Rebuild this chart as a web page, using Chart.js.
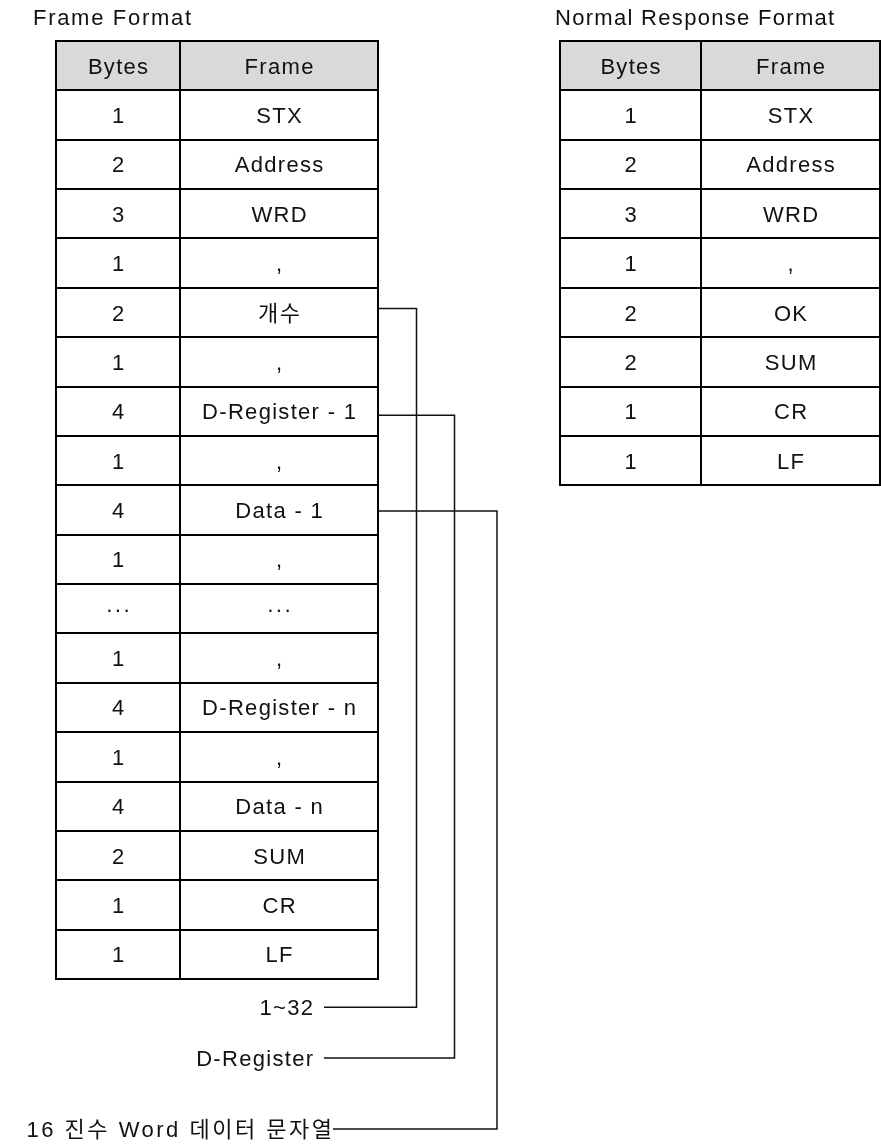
<!DOCTYPE html>
<html>
<head>
<meta charset="utf-8">
<script src="https://cdn.jsdelivr.net/npm/chart.js@4/dist/chart.umd.min.js"></script>
<style>
  body { margin: 0; background: #fff; }
  #quadro { display: block; }
</style>
</head>
<body>
<canvas id="quadro" width="881" height="1144"></canvas>
<script>
// dados das tabelas
var frameTitle = "Frame Format";
var responseTitle = "Normal Response Format";
var headers = ["Bytes", "Frame"];

var frameBytes = ["1", "2", "3", "1", "2", "1", "4", "1", "4", "1", "···", "1", "4", "1", "4", "2", "1", "1"];
var frameFields = ["STX", "Address", "WRD", ",", "개수", ",", "D-Register - 1", ",", "Data - 1", ",", "···", ",", "D-Register - n", ",", "Data - n", "SUM", "CR", "LF"];

var responseBytes = ["1", "2", "3", "1", "2", "2", "1", "1"];
var responseFields = ["STX", "Address", "WRD", ",", "OK", "SUM", "CR", "LF"];

// linhas da tabela que levam uma nota em baixo
var noteRows = [4, 6, 8];
var noteLabels = ["1~32", "D-Register", "16 진수 Word 데이터 문자열"];

// layout (pixels / unidades de linha)
var frameEdges = [56, 180, 378];
var responseEdges = [560, 701, 880];
var noteLineX = [416.5, 454.5, 497];
var noteRowPos = [19.57, 20.6, 22.04];
var noteRowShift = [-0.08, 0.08, 0.02];
var noteTextRight = [313, 313, 332];
var noteLineStart = [324, 324, 333];

var fonte = '22px "Liberation Sans", Arial, "Noto Sans CJK KR", sans-serif';
var espaco = 1.3;

function escrever(ctx, texto, x, yBase, align, sp) {
    ctx.letterSpacing = sp + "px";
    ctx.textAlign = align;
    var dx = 0;
    if (align == "center") dx = sp / 2;
    if (align == "right") dx = sp;
    ctx.fillText(texto, x + dx, yBase);
}

function desenharTabela(ctx, xs, ys, edges, bytes, fields) {
    var n = bytes.length + 1;
    var x0 = xs.getPixelForValue(edges[0]);
    var x1 = xs.getPixelForValue(edges[1]);
    var x2 = xs.getPixelForValue(edges[2]);

    // cabecalho cinza
    ctx.fillStyle = "#d9d9d9";
    ctx.fillRect(x0, ys.getPixelForValue(0), x2 - x0, ys.getPixelForValue(1) - ys.getPixelForValue(0));

    ctx.fillStyle = "#111";
    ctx.font = fonte;
    for (var r = 0; r < n; r++) {
        var base = ys.getPixelForValue(r + 0.5) + 8;
        var a = r == 0 ? headers[0] : bytes[r - 1];
        var b = r == 0 ? headers[1] : fields[r - 1];
        escrever(ctx, a, (x0 + x1) / 2, base, "center", espaco);
        escrever(ctx, b, (x1 + x2) / 2, base, "center", espaco);
    }

    ctx.strokeStyle = "#000";
    ctx.lineWidth = 2;
    ctx.beginPath();
    for (var r = 0; r <= n; r++) {
        var yy = Math.round(ys.getPixelForValue(r));
        ctx.moveTo(x0 - 1, yy);
        ctx.lineTo(x2 + 1, yy);
    }
    var top = Math.round(ys.getPixelForValue(0));
    var bot = Math.round(ys.getPixelForValue(n));
    [x0, x1, x2].forEach(function (xx) {
        ctx.moveTo(Math.round(xx), top);
        ctx.lineTo(Math.round(xx), bot);
    });
    ctx.stroke();
}

var pluginTabelas = {
    id: "tabelas",
    afterDraw: function (chart) {
        var ctx = chart.ctx;
        var xs = chart.scales.x;
        var ys = chart.scales.y;
        ctx.save();

        // titulos
        ctx.fillStyle = "#111";
        ctx.font = fonte;
        var tBase = ys.getPixelForValue(0) - 16;
        escrever(ctx, frameTitle, xs.getPixelForValue(33), tBase, "left", 1.7);
        escrever(ctx, responseTitle, xs.getPixelForValue(555), tBase, "left", 1.3);

        desenharTabela(ctx, xs, ys, frameEdges, frameBytes, frameFields);
        desenharTabela(ctx, xs, ys, responseEdges, responseBytes, responseFields);

        // notas com linhas de ligacao
        var xr = xs.getPixelForValue(frameEdges[2]);
        ctx.strokeStyle = "#111";
        ctx.lineWidth = 1.5;
        for (var i = 0; i < noteRows.length; i++) {
            var yRow = ys.getPixelForValue(noteRows[i] + 1.5 + noteRowShift[i]);
            var yNote = ys.getPixelForValue(noteRowPos[i]);
            var xv = xs.getPixelForValue(noteLineX[i]);
            ctx.beginPath();
            ctx.moveTo(xr, yRow);
            ctx.lineTo(xv, yRow);
            ctx.lineTo(xv, yNote);
            ctx.lineTo(xs.getPixelForValue(noteLineStart[i]), yNote);
            ctx.stroke();

            var sp = i == 2 ? 2.5 : espaco;
            escrever(ctx, noteLabels[i], xs.getPixelForValue(noteTextRight[i]), yNote + 8, "right", sp);
        }
        ctx.restore();
    }
};

new Chart(document.getElementById("quadro"), {
    type: "scatter",
    data: { datasets: [] },
    options: {
        responsive: false,
        animation: false,
        devicePixelRatio: 1,
        layout: { padding: { top: 41, bottom: 1144 - 979, left: 0, right: 0 } },
        plugins: { legend: { display: false }, tooltip: { enabled: false } },
        scales: {
            x: { type: "linear", min: 0, max: 881, display: false },
            y: { type: "linear", min: 0, max: 19, reverse: true, display: false }
        }
    },
    plugins: [pluginTabelas]
});
</script>
</body>
</html>
